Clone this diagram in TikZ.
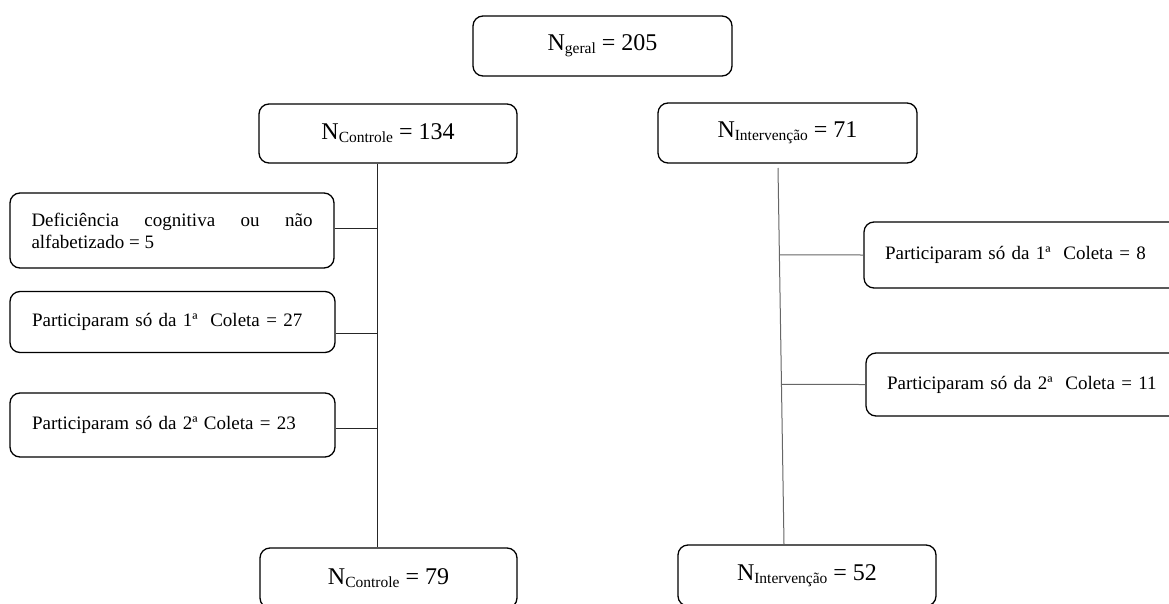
\documentclass[tikz,border=0pt]{standalone}
\usepackage{fontspec}
\setmainfont{Liberation Serif}
\newcommand{\nsub}[1]{{\fontsize{15.5}{16}\selectfont\raisebox{-3pt}{#1}}}
\begin{document}
\begin{tikzpicture}[x=1pt,y=-1pt,
  box/.style={draw,line width=1.3pt,rounded corners=10pt,inner sep=0pt,
    font=\fontsize{19}{22}\selectfont},
  nbox/.style={box,font=\fontsize{24}{28}\selectfont},
  lbox/.style={box,align=left},
  conn/.style={line width=1pt,black!85},
  rconn/.style={line width=1pt,black!60}]
\useasboundingbox (0,0) rectangle (1169,604);
\clip (0,0) rectangle (1169,604);
% top
\node[nbox,minimum width=259pt,minimum height=60pt] (geral) at (602.5,46) {N\nsub{geral} = 205};
\node[nbox,minimum width=258pt,minimum height=59pt] (ctrl1) at (388,133.5) {N\nsub{Controle} = 134};
\node[nbox,minimum width=259pt,minimum height=60pt] (int1) at (787.5,133) {N\nsub{Intervenção} = 71};
% left column
\node[box,align=justify,text width=281pt,minimum width=324pt,minimum height=75pt] (def) at (172,230.5)
  {Deficiência cognitiva ou não\linebreak alfabetizado = 5};
\node[lbox,text width=281pt,minimum width=325pt,minimum height=61pt] (c1) at (172.5,322)
  {Participaram só da 1ª~ Coleta = 27};
\node[lbox,text width=281pt,minimum width=325pt,minimum height=64pt] (c2) at (172.5,425)
  {Participaram só da 2ª Coleta = 23};
% right column
\node[lbox,text width=278pt,minimum width=320pt,minimum height=66pt] (r1) at (1024,255)
  {Participaram só da 1ª~ Coleta = 8};
\node[lbox,text width=278pt,minimum width=320pt,minimum height=63pt] (r2) at (1026,384.5)
  {Participaram só da 2ª~ Coleta = 11};
% bottom
\node[nbox,minimum width=257pt,minimum height=60pt] (ctrl2) at (388.5,578) {N\nsub{Controle} = 79};
\node[nbox,minimum width=258pt,minimum height=61pt] (int2) at (807,575.5) {N\nsub{Intervenção} = 52};
% connectors left
\coordinate (lx) at (377,0);
\draw[conn] (ctrl1.south -| lx) -- (ctrl2.north -| lx);
\draw[conn] ([yshift=2pt]def.east) -- ([yshift=2pt]def.east -| lx);
\draw[conn] ([yshift=-11pt]c1.east) -- ([yshift=-11pt]c1.east -| lx);
\draw[conn] ([yshift=-3pt]c2.east) -- ([yshift=-3pt]c2.east -| lx);
% connectors right
\coordinate (rt) at (778,168);
\coordinate (rbx) at (784,0);
\coordinate (rb) at (int2.north -| rbx);
\draw[rconn] (rt) -- (rb);
\draw[rconn] (r1.west) -- (intersection of rt--rb and r1.west--r1.east);
\draw[rconn] (r2.west) -- (intersection of rt--rb and r2.west--r2.east);
\end{tikzpicture}
\end{document}
